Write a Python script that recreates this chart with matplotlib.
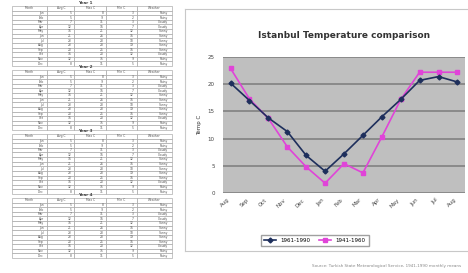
import matplotlib
matplotlib.use("Agg")
import matplotlib.pyplot as plt

# chart data
months = ["Aug", "Sep", "Oct", "Nov", "Dec", "Jan", "Feb",
          "Mar", "Apr", "May", "Jun", "Jul", "Aug"]
temp_a = [20.2, 17.0, 13.8, 11.3, 6.9, 4.0, 7.2, 10.6, 14.0, 17.2, 20.7, 21.4, 20.4]
temp_b = [22.9, 17.3, 13.7, 8.5, 4.8, 1.8, 5.4, 3.7, 10.3, 17.2, 22.2, 22.2, 22.2]
series_labels = ["1961-1990", "1941-1960"]
title = "Istanbul Temperature comparison"
footer = "Source: Turkish State Meteorological Service, 1941-1990 monthly means"

# side tables (one per period)
table_titles = ["Year 1", "Year 2", "Year 3", "Year 4"]
table_header = ["Month", "Avg C", "Max C", "Min C", "Weather"]
table_months = ["Jan", "Feb", "Mar", "Apr", "May", "Jun",
                "Jul", "Aug", "Sep", "Oct", "Nov", "Dec"]
table_avg = [5, 5, 7, 12, 16, 21, 23, 23, 20, 16, 12, 8]
table_max = [8, 9, 11, 16, 21, 26, 28, 28, 25, 20, 15, 11]
table_min = [3, 2, 3, 7, 12, 16, 18, 19, 16, 12, 9, 5]
table_wx = ["Rainy", "Rainy", "Cloudy", "Cloudy", "Sunny", "Sunny",
            "Sunny", "Sunny", "Sunny", "Cloudy", "Rainy", "Rainy"]

NAVY = "#1e2f5c"
MAGENTA = "#e044d8"

fig = plt.figure(figsize=(4.68, 2.73), dpi=100)
fig.patch.set_facecolor("white")

# ─ left: four small tables
block_h = 64 / 273
for i, ttl in enumerate(table_titles):
    bottom = 1 - (6 + i * 64) / 273 - block_h + 4 / 273
    tax = fig.add_axes([12 / 468, bottom, 160 / 468, block_h - 4 / 273])
    tax.axis("off")
    rows = [[m, str(a), str(mx), str(mn), w]
            for m, a, mx, mn, w in zip(table_months, table_avg, table_max, table_min, table_wx)]
    tbl = tax.table(cellText=rows, colLabels=table_header, loc="upper center",
                    colWidths=[0.22, 0.17, 0.2, 0.19, 0.22], bbox=[0, 0, 1, 1])
    tbl.auto_set_font_size(False)
    tbl.set_fontsize(2.2)
    for cell in tbl.get_celld().values():
        cell.set_linewidth(0.4)
        cell.set_edgecolor("#9a9a9a")
        cell.get_text().set_color("#555555")
    tax.text(0.46, 1.02, ttl, transform=tax.transAxes, ha="center", va="bottom",
             fontsize=3, fontweight="bold", color="#444444")

# ─ right: chart frame
frame = fig.add_axes([185 / 468, 1 - 251 / 273, 283 / 468, 242 / 273])
frame.set_xticks([]); frame.set_yticks([])
for s in frame.spines.values():
    s.set_color("#c8c8c8"); s.set_linewidth(0.8)
frame.spines["right"].set_visible(False)

ax = fig.add_axes([223 / 468, 1 - 193 / 273, 242 / 468, 136 / 273])
ax.set_facecolor("#bfbfbf")
x = range(len(months))
ax.plot(x, temp_a, color=NAVY, marker="D", markersize=2.5, linewidth=1.2,
        label=series_labels[0], zorder=3)
ax.plot(x, temp_b, color=MAGENTA, marker="s", markersize=2.5, linewidth=1.2,
        label=series_labels[1], zorder=2)
ax.set_ylim(0, 25)
ax.set_xlim(-0.4, len(months) - 0.6)
ax.set_yticks([0, 5, 10, 15, 20, 25])
ax.yaxis.grid(True, color="#8a8a8a", linewidth=1.4)
ax.set_axisbelow(True)
ax.set_xticks(list(x))
ax.set_xticklabels(months, rotation=45, ha="right", fontsize=4, color="#444444")
ax.tick_params(axis="y", labelsize=4, colors="#444444", length=0, pad=6)
ax.tick_params(axis="x", length=0, pad=3)
for s in ax.spines.values():
    s.set_visible(False)
ax.set_ylabel("Temp C", fontsize=4, color="#333333", labelpad=4)
ax.set_title(title, fontsize=6.5, fontweight="bold", color="#333333", pad=14)

ax.legend(loc="upper center", bbox_to_anchor=(0.38, -0.29), ncol=2, fontsize=4,
          frameon=True, fancybox=False, edgecolor="#888888", handlelength=2.2,
          borderpad=0.5, columnspacing=1.5)

fig.text(0.985, 0.025, footer, ha="right", va="center", fontsize=3, color="#888888")

fig.savefig("out.png", dpi=100)
